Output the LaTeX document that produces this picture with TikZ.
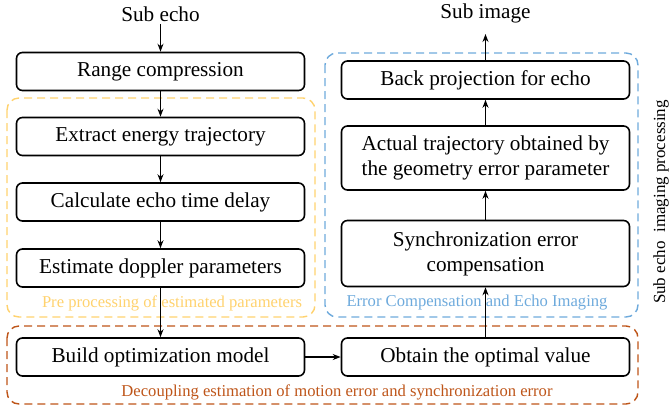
\documentclass[tikz,border=0pt]{standalone}
\usepackage{fontspec}
\setmainfont{Liberation Serif}
\usetikzlibrary{arrows.meta}
\begin{document}
\begin{tikzpicture}[x=0.5pt,y=-0.5pt,>={Stealth[length=4pt,width=3pt]},
    paso/.style={draw,line width=0.8pt,rounded corners=3pt,minimum width=144pt,
        minimum height=19pt,inner sep=0pt,align=center,font=\fontsize{10.6}{12.5}\selectfont},
    grupo/.style={line width=0.7pt,dash pattern=on 4pt off 2.5pt,rounded corners=6pt},
    rotulo/.style={font=\fontsize{8.3}{10}\selectfont,inner sep=0pt}]
        %colores
        \definecolor{amar}{RGB}{255,210,110}
        \definecolor{azul}{RGB}{110,170,220}
        \definecolor{rojo}{RGB}{190,85,25}

        \useasboundingbox (0,0) rectangle (671,409);

        %Grupos
        \draw[grupo,amar] (7,98) rectangle (315,317);
        \draw[grupo,azul] (325,53) rectangle (638,317);
        \draw[grupo,rojo] (7,326) rectangle (638,404);
        \node[rotulo,text=amar] at (172,303) {Pre processing of estimated parameters};
        \node[rotulo,text=azul] at (477,303) {Error Compensation and Echo Imaging};
        \node[rotulo,text=rojo] at (337,392) {Decoupling estimation of motion error and synchronization error};

        %Columna izquierda
        \node[font=\fontsize{10.6}{12.5}\selectfont,inner sep=1pt] (subecho) at (160.5,14) {Sub echo};
        \node[paso] (range) at (160.5,71.5) {Range compression};
        \node[paso] (extract) at (160.5,136.5) {Extract energy trajectory};
        \node[paso] (calc) at (160.5,202) {Calculate echo time delay};
        \node[paso] (doppler) at (160.5,268) {Estimate doppler parameters};
        \node[paso] (build) at (160.5,357) {Build optimization model};

        %Columna derecha
        \node[paso] (optimal) at (485.5,357) {Obtain the optimal value};
        \node[paso,minimum height=33pt] (sync) at (485.5,253.5) {Synchronization error\\compensation};
        \node[paso,minimum height=32pt] (actual) at (485.5,158) {Actual trajectory obtained by\\the geometry error parameter};
        \node[paso] (back) at (485.5,80) {Back projection for echo};
        \node[font=\fontsize{10.6}{12.5}\selectfont,inner sep=1pt] (subimage) at (485.5,13) {Sub image};
        \coordinate (salida) at (485.5,34);

        \node[rotulo,font=\fontsize{8.5}{10}\selectfont,rotate=90] (titulo) at (661,202) {Sub echo\ \ imaging processing};

        %Flechas
        \draw[->,line width=0.7pt] (subecho) -- (range);
        \draw[->,line width=0.7pt] (range) -- (extract);
        \draw[->,line width=0.7pt] (extract) -- (calc);
        \draw[->,line width=0.7pt] (calc) -- (doppler);
        \draw[->,line width=0.7pt] (doppler) -- (build);
        \draw[->,line width=0.7pt] (build) -- (optimal);
        \draw[->,line width=0.7pt] (optimal) -- (sync);
        \draw[->,line width=0.7pt] (sync) -- (actual);
        \draw[->,line width=0.7pt] (actual) -- (back);
        \draw[->,line width=0.7pt] (back) -- (salida);
    \end{tikzpicture}
\end{document}
